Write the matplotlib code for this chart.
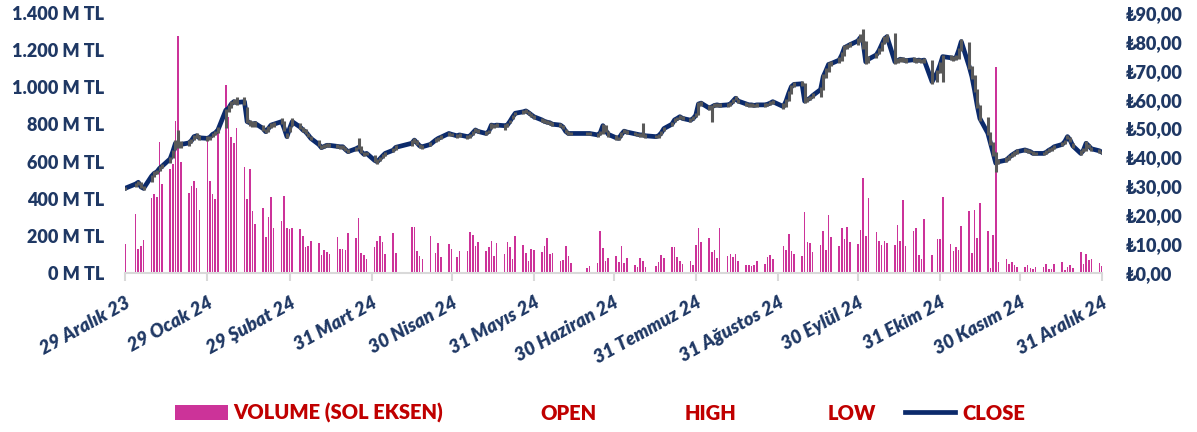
import matplotlib
matplotlib.use("Agg")
import matplotlib.pyplot as plt
import matplotlib.dates as mdates
from matplotlib.patches import Rectangle
from matplotlib.lines import Line2D
import pandas as pd
import numpy as np

plt.rcParams['font.family'] = ['Lato', 'DejaVu Sans']

# ---------------- DATA ----------------
HOLIDAYS = ['2024-01-01', '2024-04-10', '2024-04-11', '2024-04-12', '2024-04-23',
            '2024-05-01', '2024-06-17', '2024-06-18', '2024-06-19', '2024-07-15',
            '2024-08-30', '2024-10-29']

# Volume (million TL) per trading day, by month
vol_dec23 = [156]
vol_jan = [318, 131, 144, 176, 404, 425, 407, 705, 479, 562, 587, 820, 1274, 596,
           431, 470, 497, 458, 337, 713, 497, 425]
vol_feb = [400, 763, 1014, 838, 734, 698, 781, 571, 400, 560, 332, 264, 350, 192,
           303, 409, 242, 278, 416, 242, 237]
vol_mar = [242, 237, 197, 140, 144, 174, 162, 95, 126, 113, 102, 196, 131, 129, 124,
           215, 188, 298, 109, 95, 75]
vol_apr = [138, 174, 201, 167, 100, 214, 109, 250, 248, 117, 93, 77, 197, 108, 163,
           86, 156, 129]
vol_may = [86, 118, 118, 221, 206, 147, 167, 118, 138, 172, 90, 162, 102, 169, 142,
           77, 201, 153, 106, 63, 131, 124]
vol_jun = [113, 147, 190, 102, 109, 66, 72, 145, 93, 56, 27, 39, 54, 224, 135, 66, 81]
vol_jul = [93, 57, 147, 54, 81, 41, 34, 81, 63, 32, 36, 59, 95, 81, 140, 138, 86, 65,
           48, 65, 41, 153]
vol_aug = [242, 167, 190, 115, 122, 81, 242, 90, 104, 86, 102, 63, 41, 41, 38, 41, 66,
           48, 86, 95, 77]
vol_sep = [144, 124, 212, 120, 102, 93, 328, 169, 163, 113, 149, 228, 124, 312, 196,
           144, 244, 183, 250, 169, 156]
vol_oct = [232, 512, 197, 406, 221, 174, 151, 174, 162, 149, 258, 174, 393, 147, 226,
           242, 99, 77, 293, 99, 185, 185]
vol_nov = [409, 156, 120, 142, 126, 251, 332, 109, 341, 188, 377, 224, 27, 206, 1108,
           59, 77, 50, 59, 45, 32]
vol_dec = [31, 41, 25, 23, 34, 31, 48, 22, 23, 50, 61, 16, 32, 45, 27, 111, 50, 102,
           68, 77, 56, 38]

# Close price (TL)
close_dec23 = [29.3]
close_jan = [30.8, 31.4, 29.8, 29.3, 33.5, 34.5, 35.0, 36.2, 37.0, 39.5, 42.0, 44.9,
             44.0, 44.5, 45.0, 45.8, 47.2, 47.5, 46.8, 46.6, 47.0, 48.0]
close_feb = [48.5, 49.5, 56.4, 57.0, 58.5, 59.3, 59.0, 59.3, 52.4, 52.0, 51.5, 51.8,
             50.0, 48.9, 50.0, 51.2, 51.5, 52.4, 50.0, 47.2, 50.0]
close_mar = [52.4, 50.5, 49.5, 48.9, 47.8, 46.6, 44.5, 43.4, 43.8, 44.2, 44.2, 43.8,
             43.7, 43.7, 42.8, 42.0, 43.0, 43.5, 42.0, 41.1, 41.4]
close_apr = [39.0, 38.5, 39.5, 40.5, 41.4, 42.5, 43.5, 44.9, 46.0, 45.0, 44.0, 43.7,
             44.5, 46.0, 46.6, 47.0, 48.3, 48.0]
close_may = [47.5, 47.8, 47.2, 47.5, 48.5, 49.5, 49.0, 48.3, 49.0, 51.2, 51.0, 51.2,
             51.0, 51.2, 52.5, 54.0, 55.3, 55.8, 56.1, 55.5, 54.8, 54.1]
close_jun = [53.0, 52.5, 52.2, 52.0, 51.5, 51.2, 50.5, 49.0, 48.3, 48.3, 48.3, 48.3,
             47.8, 48.5, 51.0, 49.5, 48.0]
close_jul = [46.8, 46.6, 48.0, 49.1, 48.8, 48.2, 48.0, 47.8, 47.8, 47.5, 47.2, 47.5,
             48.5, 50.0, 51.5, 53.0, 53.5, 54.1, 53.5, 52.9, 53.5, 54.6]
close_aug = [58.5, 58.8, 57.1, 57.5, 58.0, 58.2, 58.0, 58.2, 58.5, 59.5, 60.5, 59.5,
             58.5, 58.2, 58.2, 58.0, 58.2, 58.2, 58.4, 58.8, 59.3]
close_sep = [57.6, 59.5, 62.2, 64.5, 65.3, 65.5, 59.5, 60.0, 60.5, 61.4, 63.5, 68.0,
             70.0, 72.2, 72.5, 73.7, 75.5, 78.0, 78.5, 79.0, 80.3]
close_oct = [81.5, 80.0, 73.1, 74.0, 75.5, 77.0, 79.0, 81.0, 81.8, 73.1, 73.5, 74.0,
             73.8, 73.5, 73.8, 73.5, 73.7, 73.5, 73.7, 66.2, 69.5, 72.0]
close_nov = [74.9, 74.5, 74.3, 74.5, 77.0, 80.1, 71.4, 68.0, 63.3, 58.0, 53.5, 48.4,
             45.0, 41.5, 38.0, 38.5, 39.1, 40.0, 40.8, 41.4, 42.0]
close_dec = [42.6, 42.3, 42.0, 41.4, 41.4, 41.4, 41.8, 42.5, 43.0, 43.7, 44.5, 45.5,
             47.2, 46.0, 44.0, 41.4, 42.5, 44.9, 44.0, 43.0, 42.3, 41.8]

# High price (TL)
high_dec23 = [29.8]
high_jan = [31.2, 31.9, 31.5, 30.2, 33.9, 35.2, 35.6, 36.9, 37.6, 40.2, 42.6, 46.0,
            49.5, 45.6, 45.9, 46.3, 47.8, 48.3, 47.6, 47.4, 47.5, 48.6]
high_feb = [49.2, 50.5, 56.9, 58.2, 59.6, 60.3, 61.0, 61.0, 57.5, 53.0, 52.6, 52.6,
            51.2, 50.0, 50.8, 52.0, 52.3, 53.6, 52.6, 48.4, 51.0]
high_mar = [53.6, 52.0, 50.6, 49.8, 48.6, 47.5, 46.2, 44.3, 44.5, 45.0, 44.9, 44.5,
            44.3, 44.3, 43.6, 42.9, 43.6, 46.6, 43.8, 42.0, 41.9]
high_apr = [40.8, 39.3, 40.1, 41.2, 42.0, 43.2, 44.2, 45.9, 46.8, 46.1, 44.8, 44.4,
            45.2, 46.6, 47.2, 47.6, 48.9, 48.6]
high_may = [48.2, 48.4, 47.9, 48.2, 49.1, 50.1, 49.8, 49.0, 49.6, 51.8, 51.7, 51.8,
            51.6, 51.9, 53.1, 54.7, 55.9, 56.4, 56.8, 56.2, 55.5, 54.8]
high_jun = [53.8, 53.2, 52.9, 52.6, 52.1, 51.9, 51.2, 50.0, 49.0, 48.9, 48.9, 48.8,
            48.4, 49.3, 51.7, 51.2, 49.0]
high_jul = [47.6, 47.2, 48.7, 49.8, 49.4, 48.9, 48.6, 48.5, 51.8, 48.2, 47.9, 48.1,
            49.2, 50.7, 52.2, 53.7, 54.1, 54.8, 54.2, 53.6, 54.2, 55.3]
high_aug = [59.2, 59.5, 58.3, 58.2, 58.7, 58.9, 58.7, 58.9, 59.2, 60.2, 61.2, 60.3,
            59.2, 58.9, 58.8, 58.6, 58.8, 58.9, 59.0, 59.4, 60.0]
high_sep = [58.8, 60.3, 63.0, 65.2, 66.0, 66.3, 65.8, 60.8, 61.2, 62.2, 64.5, 68.8,
            70.9, 73.0, 73.3, 74.8, 76.4, 78.8, 79.4, 79.8, 81.5]
high_oct = [82.6, 84.3, 80.2, 75.2, 76.3, 77.8, 79.9, 81.9, 82.8, 83.0, 74.3, 74.8,
            74.6, 74.3, 74.6, 74.3, 74.5, 74.2, 74.5, 73.8, 70.4, 72.9]
high_nov = [75.6, 75.3, 75.1, 75.3, 77.9, 81.0, 80.1, 71.8, 68.5, 63.8, 58.0, 54.1,
            48.9, 45.2, 42.0, 39.5, 40.0, 40.8, 41.6, 42.2, 42.8]
high_dec = [43.3, 43.0, 42.7, 42.1, 42.0, 42.0, 42.5, 43.2, 43.7, 44.4, 45.2, 46.2,
            47.9, 47.0, 45.0, 42.6, 43.3, 45.8, 44.7, 43.7, 43.0, 42.4]

# Low price (TL)
low_dec23 = [28.9]
low_jan = [29.6, 30.5, 29.4, 28.6, 31.5, 33.4, 34.3, 35.2, 36.3, 38.0, 39.8, 42.5,
           43.1, 43.4, 43.8, 45.0, 45.9, 46.8, 46.1, 45.8, 46.2, 47.1]
low_feb = [47.8, 48.3, 50.2, 55.8, 57.2, 58.4, 58.1, 58.2, 52.0, 51.0, 50.5, 50.7,
           49.3, 48.3, 48.9, 50.2, 50.6, 51.5, 49.2, 46.6, 48.9]
low_mar = [50.8, 50.0, 48.8, 48.2, 47.1, 45.9, 44.0, 42.9, 43.1, 43.6, 43.5, 43.2,
           43.0, 43.0, 42.2, 41.5, 42.2, 42.8, 41.6, 40.6, 40.8]
low_apr = [38.5, 37.9, 38.8, 39.8, 40.6, 41.8, 42.7, 44.0, 45.0, 44.2, 43.3, 42.9,
           43.8, 45.2, 45.8, 46.3, 47.3, 47.4]
low_may = [46.9, 47.0, 46.5, 46.9, 47.8, 48.8, 48.4, 47.6, 48.3, 49.8, 50.3, 50.6,
           49.6, 50.5, 51.8, 53.2, 54.6, 55.2, 55.5, 54.8, 54.0, 53.3]
low_jun = [52.3, 51.8, 51.6, 51.4, 50.8, 50.5, 49.7, 48.4, 47.6, 47.7, 47.7, 47.8,
           47.2, 47.7, 48.2, 48.8, 47.2]
low_jul = [46.1, 45.9, 47.2, 48.4, 48.1, 47.6, 47.4, 47.1, 47.2, 46.9, 46.6, 46.9,
           47.8, 49.2, 50.8, 52.2, 52.8, 53.4, 52.8, 52.2, 52.8, 53.9]
low_aug = [54.8, 57.9, 56.4, 52.4, 57.4, 57.5, 57.4, 57.5, 57.9, 58.8, 59.8, 58.9,
           57.8, 57.6, 57.6, 57.4, 57.6, 57.6, 57.8, 58.2, 58.6]
low_sep = [56.9, 57.3, 59.4, 61.9, 64.5, 64.7, 58.8, 59.2, 59.8, 60.6, 61.0, 63.2,
           67.5, 69.6, 71.6, 72.6, 73.3, 75.2, 77.5, 78.2, 78.8]
low_oct = [79.8, 77.5, 72.5, 72.6, 74.5, 75.8, 77.0, 79.4, 80.0, 72.4, 72.6, 73.2,
           73.0, 72.7, 72.9, 72.8, 72.9, 72.7, 72.8, 65.5, 66.0, 69.2]
low_nov = [66.2, 73.6, 73.5, 73.7, 74.2, 76.8, 70.6, 67.2, 62.5, 57.2, 52.7, 47.6,
           44.2, 40.6, 35.1, 37.6, 38.3, 39.2, 40.0, 40.6, 41.2]
low_dec = [41.9, 41.6, 41.4, 40.8, 40.8, 40.8, 41.2, 41.8, 42.3, 43.0, 43.8, 44.8,
           46.5, 45.2, 43.3, 40.7, 41.8, 42.2, 43.3, 42.4, 41.6, 41.2]

TICK_DATES = ['2023-12-29', '2024-01-29', '2024-02-29', '2024-03-31', '2024-04-30',
              '2024-05-31', '2024-06-30', '2024-07-31', '2024-08-31', '2024-09-30',
              '2024-10-31', '2024-11-30', '2024-12-31']
TICK_LABELS = ['29 Aralık 23', '29 Ocak 24', '29 Şubat 24', '31 Mart 24', '30 Nisan 24',
               '31 Mayıs 24', '30 Haziran 24', '31 Temmuz 24', '31 Ağustos 24',
               '30 Eylül 24', '31 Ekim 24', '30 Kasım 24', '31 Aralık 24']

VOL_TICKS = [0, 200, 400, 600, 800, 1000, 1200, 1400]
PRICE_TICKS = [0, 10, 20, 30, 40, 50, 60, 70, 80, 90]

# ---------------- ASSEMBLE ----------------
volume = (vol_dec23 + vol_jan + vol_feb + vol_mar + vol_apr + vol_may + vol_jun +
          vol_jul + vol_aug + vol_sep + vol_oct + vol_nov + vol_dec)
close = (close_dec23 + close_jan + close_feb + close_mar + close_apr + close_may +
         close_jun + close_jul + close_aug + close_sep + close_oct + close_nov + close_dec)
high = (high_dec23 + high_jan + high_feb + high_mar + high_apr + high_may + high_jun +
        high_jul + high_aug + high_sep + high_oct + high_nov + high_dec)
low = (low_dec23 + low_jan + low_feb + low_mar + low_apr + low_may + low_jun +
       low_jul + low_aug + low_sep + low_oct + low_nov + low_dec)

dates = pd.bdate_range('2023-12-29', '2024-12-31', freq='C', holidays=HOLIDAYS)
n = min(len(dates), len(volume), len(close), len(high), len(low))
xd = mdates.date2num(dates[:n].to_pydatetime())

NAVY = '#1F3864'
LINE_NAVY = '#0B2A6B'
PINK = '#CC3399'
RED = '#C00000'
GRAY = '#595959'
AXIS_GRAY = '#D9D9D9'
WEIGHT = 'heavy'

W, H = 1197, 432
fig = plt.figure(figsize=(W / 100, H / 100), dpi=100)
ax = fig.add_axes([125 / W, 1 - 273 / H, 977 / W, 260 / H])
ax2 = ax.twinx()

ax.bar(xd, volume[:n], width=0.6, color=PINK, linewidth=0, zorder=2)
ax.set_ylim(0, 1400)
ax.set_yticks(VOL_TICKS)
ax.set_yticklabels([f"{v:,} M TL".replace(',', '.') for v in VOL_TICKS])

ax2.plot(xd, close[:n], color=LINE_NAVY, lw=3.4, zorder=2, solid_joinstyle='round')
ax2.vlines(xd, low[:n], high[:n], color=GRAY, lw=2.2, zorder=3)
ax2.set_ylim(0, 90)
ax2.set_yticks(PRICE_TICKS)
ax2.set_yticklabels([f"₺{v},00" for v in PRICE_TICKS])

ticknums = mdates.date2num(pd.to_datetime(TICK_DATES).to_pydatetime())
ax.set_xlim(ticknums[0], ticknums[-1])
ax.set_xticks(ticknums)
ax.set_xticklabels(TICK_LABELS, rotation=29, ha='right', va='top',
                   rotation_mode='anchor', fontstyle='italic', fontweight=WEIGHT,
                   color=NAVY, fontsize=13.5)

for a in (ax, ax2):
    for s in ('top', 'left', 'right'):
        a.spines[s].set_visible(False)
ax2.spines['bottom'].set_visible(False)
ax.spines['bottom'].set_color(AXIS_GRAY)
ax.spines['bottom'].set_linewidth(1.5)
ax.tick_params(axis='x', length=6, width=1.5, color=AXIS_GRAY, pad=9)
ax.tick_params(axis='y', length=0, pad=15, labelcolor=NAVY, labelsize=13)
ax2.tick_params(axis='y', length=0, pad=17, labelcolor=NAVY, labelsize=13)
for lab in ax.get_yticklabels() + ax2.get_yticklabels():
    lab.set_fontweight(WEIGHT)

# ---------------- LEGEND (manual) ----------------
def fx(px):
    return px / W

def fy(py):
    return 1 - py / H

fig.add_artist(Rectangle((fx(175), fy(420)), fx(228) - fx(175), fy(405) - fy(420),
                         transform=fig.transFigure, color=PINK, lw=0))
fig.add_artist(Line2D([fx(905), fx(955)], [fy(412), fy(412)], transform=fig.transFigure,
                      color=LINE_NAVY, lw=3.4))
leg_kw = dict(color=RED, fontsize=14.5, fontweight=WEIGHT, va='center', ha='left')
fig.text(fx(233), fy(413), 'VOLUME (SOL EKSEN)', **leg_kw)
fig.text(fx(540), fy(413), 'OPEN', **leg_kw)
fig.text(fx(685), fy(413), 'HIGH', **leg_kw)
fig.text(fx(828), fy(413), 'LOW', **leg_kw)
fig.text(fx(962), fy(413), 'CLOSE', **leg_kw)

fig.savefig('out.png', dpi=100)
